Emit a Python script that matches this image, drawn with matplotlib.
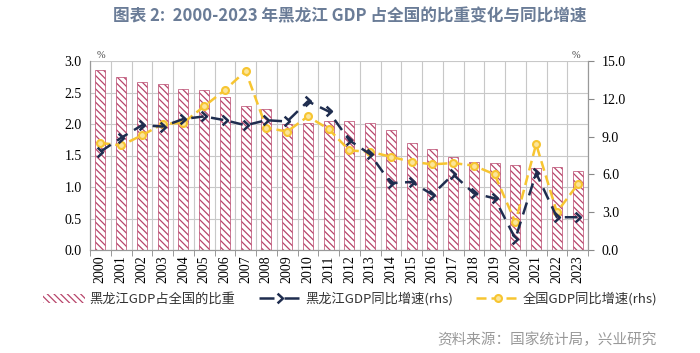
import matplotlib
matplotlib.use("Agg")
import matplotlib.pyplot as plt
from matplotlib.path import Path
from matplotlib.patches import Patch
from matplotlib.lines import Line2D
import numpy as np

plt.rcParams['font.family'] = ['Noto Sans CJK SC', 'DejaVu Sans']
plt.rcParams['hatch.linewidth'] = 0.9

years = [str(y) for y in range(2000, 2024)]
share = [2.86, 2.75, 2.67, 2.63, 2.56, 2.54, 2.43, 2.28, 2.24, 2.00, 2.02, 2.04,
         2.05, 2.01, 1.90, 1.70, 1.60, 1.48, 1.39, 1.38, 1.35, 1.30, 1.32, 1.26]
hlj_growth = [7.8, 8.9, 9.9, 9.8, 10.4, 10.6, 10.3, 9.9, 10.3, 10.2, 11.8, 11.0,
              8.7, 7.6, 5.3, 5.4, 4.4, 6.0, 4.5, 4.1, 0.9, 6.1, 2.6, 2.6]
nat_growth = [8.5, 8.3, 9.1, 10.0, 10.1, 11.4, 12.7, 14.2, 9.7, 9.4, 10.6, 9.6,
              7.9, 7.8, 7.4, 7.0, 6.8, 6.9, 6.7, 6.0, 2.2, 8.4, 3.0, 5.2]

title = "图表 2:  2000-2023 年黑龙江 GDP 占全国的比重变化与同比增速"
legend_labels = ["黑龙江GDP占全国的比重", "黑龙江GDP同比增速(rhs)", "全国GDP同比增速(rhs)"]
source = "资料来源：国家统计局，兴业研究"

bar_edge = '#b8456b'
navy = '#1f2d4f'
yellow = '#f7c531'
grid_c = '#c8c8c8'
serif = 'Liberation Serif'

chevron = Path([(-0.6, 1.0), (0.5, 0.0), (-0.6, -1.0)],
               [Path.MOVETO, Path.LINETO, Path.LINETO])

fig = plt.figure(figsize=(7.0, 3.53), dpi=100)
ax = fig.add_axes([90/700, 1-250/353, (588-90)/700, (250-61)/353])
ax2 = ax.twinx()

x = np.arange(len(years))
ax.bar(x, share, width=0.48, color='white', edgecolor=bar_edge,
       hatch='\\\\\\\\\\', linewidth=0.5, zorder=2)

ax.set_xlim(-0.5, len(years) - 0.5)
ax.set_ylim(0, 3.0)
ax.set_yticks(np.arange(0, 3.01, 0.5))
ax.set_yticklabels([f"{v:.1f}" for v in np.arange(0, 3.01, 0.5)],
                   fontfamily=serif, fontsize=10)
ax.set_xticks(x)
ax.set_xticklabels(years, rotation=90, fontfamily=serif, fontsize=10)
ax.set_xticks(np.arange(-0.5, len(years), 1), minor=True)
ax.tick_params(axis='x', which='major', length=0, pad=4)
ax.tick_params(axis='x', which='minor', length=4, color='#888888', direction='out')
ax.tick_params(axis='y', length=0, pad=6)
ax.grid(axis='y', color=grid_c, linewidth=0.8, zorder=0)
ax.grid(axis='x', which='minor', color=grid_c, linewidth=0.8, zorder=0)
ax.set_axisbelow(True)

ax2.plot(x, hlj_growth, color=navy, linewidth=1.8, dashes=(5, 3),
         marker=chevron, markersize=7, markeredgewidth=1.8,
         markerfacecolor='none', markeredgecolor=navy, zorder=4)
ax2.plot(x, nat_growth, color=yellow, linewidth=1.8, dashes=(4, 2),
         marker='o', markersize=5, markeredgewidth=1.5,
         markerfacecolor='#fbe59a', markeredgecolor=yellow, zorder=3)
ax2.set_ylim(0, 15.0)
ax2.set_yticks(np.arange(0, 15.01, 3))
ax2.set_yticklabels([f"{v:.1f}" for v in np.arange(0, 15.01, 3)],
                    fontfamily=serif, fontsize=10)
ax2.tick_params(axis='y', length=4, color='#888888', pad=6)

for a in (ax, ax2):
    for s in a.spines.values():
        s.set_color('#999999')
        s.set_linewidth(0.8)
    a.spines['top'].set_visible(False)

fig.text(97/700, 1-55/353, "%", fontsize=7.5, color='#444444',
         fontfamily=serif, ha='left', va='center')
fig.text(580/700, 1-55/353, "%", fontsize=7.5, color='#444444',
         fontfamily=serif, ha='right', va='center')

fig.text(0.5, 1-16/353, title, fontsize=12, fontweight='semibold',
         color='#6a7c97', ha='center', va='center')

handles = [
    Patch(facecolor='white', edgecolor=bar_edge, hatch='\\\\\\\\\\', linewidth=0.0),
    Line2D([], [], color=navy, linewidth=1.8, dashes=(6, 4), marker=chevron,
           markersize=7, markeredgewidth=1.8, markerfacecolor='none'),
    Line2D([], [], color=yellow, linewidth=1.8, dashes=(4, 2), marker='o',
           markersize=5, markeredgewidth=1.5, markerfacecolor='#fbe59a',
           markeredgecolor=yellow),
]
fig.legend(handles, legend_labels, loc='center', bbox_to_anchor=(0.5, 1-299/353),
           ncol=3, frameon=False, fontsize=9.5, handlelength=3.2, handletextpad=0.3,
           columnspacing=1.8, labelcolor='#333333')

fig.text(657/700, 1-340/353, source, fontsize=10.5, color='#999999',
         ha='right', va='center')

fig.savefig('out.png', dpi=100)
